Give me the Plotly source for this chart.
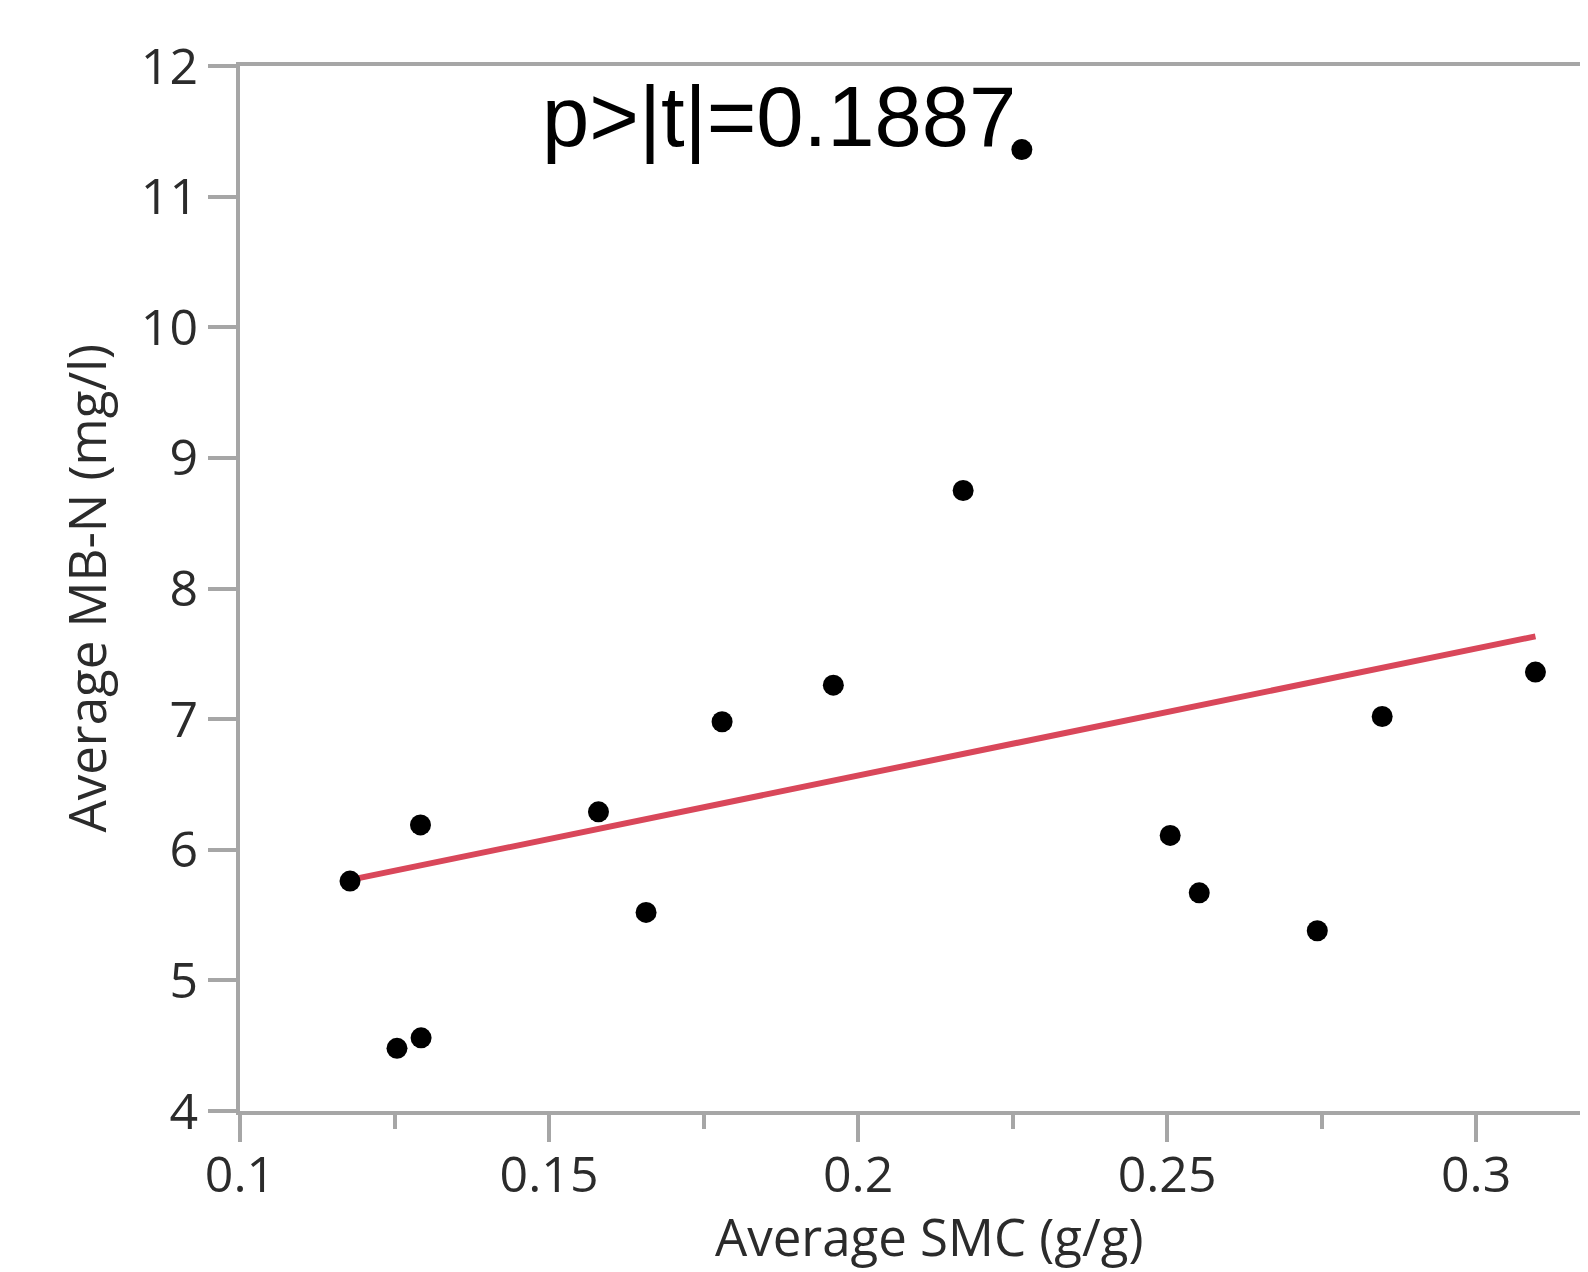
import numpy as np
import plotly.graph_objects as go

# ------------------------------------------------------------------------------
# Data

smc = [0.1178, 0.1254, 0.1293, 0.1292, 0.1580, 0.1657, 0.1780, 0.1960,
       0.2170, 0.2265, 0.2505, 0.2552, 0.2743, 0.2848, 0.3096]
mbn = [5.76, 4.48, 4.56, 6.19, 6.29, 5.52, 6.98, 7.26,
       8.75, 11.36, 6.11, 5.67, 5.38, 7.02, 7.36]

p_text = "p>|t|=0.1887"
x_title = "Average SMC (g/g)"
y_title = "Average MB-N (mg/l)"

AXIS_GREY = "#a6a6a6"
TICK_FONT = dict(family="Open Sans", size=50, color="#2b2b2b")

# page body adds an 8px margin, so the figure is 8px smaller and shifted
W, H = 1580, 1264

# ------------------------------------------------------------------------------

# least squares fit line over the observed range
slope, intercept = np.polyfit(smc, mbn, 1)
fit_x = [min(smc), max(smc)]
fit_y = [slope * v + intercept for v in fit_x]

fig = go.Figure()

fig.add_trace(go.Scatter(x=fit_x, y=fit_y, mode="lines",
        line=dict(color="#d9475a", width=6),
        showlegend=False))

fig.add_trace(go.Scatter(x=smc, y=mbn, mode="markers",
        marker=dict(color="black", size=21),
        showlegend=False))

fig.update_xaxes(range=[0.1, 0.3181],
        tick0=0.1, dtick=0.05, automargin=False,
        showgrid=False, zeroline=False,
        showline=True, mirror=True, linecolor=AXIS_GREY, linewidth=4,
        ticks="outside", ticklen=27, tickwidth=4, tickcolor=AXIS_GREY,
        ticklabelstandoff=-10,
        minor=dict(dtick=0.025, tick0=0.1, ticks="outside", ticklen=14,
            tickwidth=4, tickcolor=AXIS_GREY, showgrid=False),
        tickfont=TICK_FONT)

fig.update_yaxes(range=[4, 12], dtick=1, automargin=False,
        showgrid=False, zeroline=False,
        showline=True, mirror=False, linecolor=AXIS_GREY, linewidth=4,
        ticks="outside", ticklen=28, tickwidth=4, tickcolor=AXIS_GREY,
        tickfont=TICK_FONT)

# axis titles and the p value as annotations so they sit where the original has them
fig.add_annotation(text=x_title, xref="paper", yref="paper",
        x=(929 - 240) / 1348, y=-(1236 - 1111) / 1045,
        xanchor="center", yanchor="middle", showarrow=False,
        font=dict(family="Open Sans", size=51, color="#2b2b2b"))

fig.add_annotation(text=y_title, xref="paper", yref="paper",
        x=(85 - 240) / 1348, y=0.5, textangle=-90,
        xanchor="center", yanchor="middle", showarrow=False,
        font=dict(family="Open Sans", size=51, color="#2b2b2b"))

fig.add_annotation(text=p_text, xref="x", yref="y",
        x=0.1485, y=11.61, xanchor="left", yanchor="middle", showarrow=False,
        font=dict(family="Liberation Sans", size=85, color="black"))

fig.update_layout(width=W, height=H,
        margin=dict(l=232, r=0, t=58, b=161),
        paper_bgcolor="white", plot_bgcolor="white")

fig.write_html("out.html")
